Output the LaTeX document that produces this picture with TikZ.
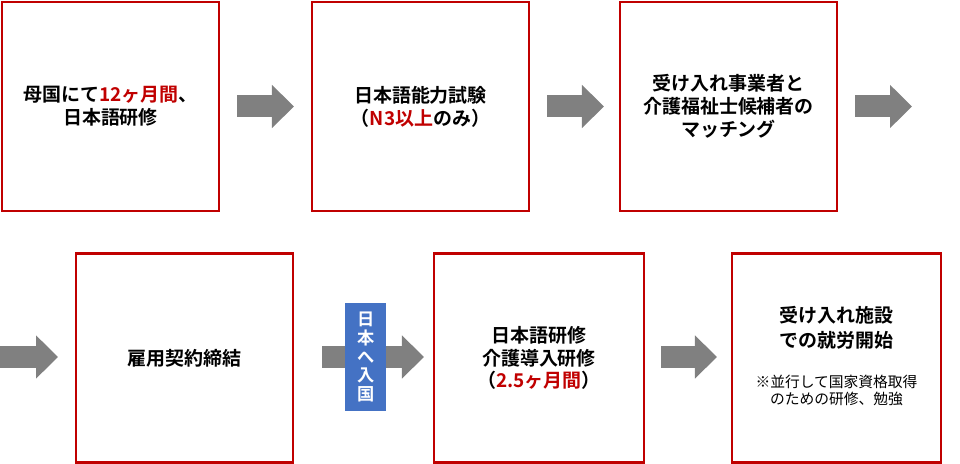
\documentclass[tikz,border=0pt]{standalone}
\usepackage{fontspec}
\setmainfont{Noto Sans CJK JP}[BoldFont={Noto Sans CJK JP Bold}]
\usetikzlibrary{arrows.meta,positioning,calc}
\definecolor{stepred}{HTML}{C00000}
\definecolor{arrowgray}{HTML}{808080}
\definecolor{entryblue}{HTML}{4472C4}
\newcommand{\hl}[1]{\textcolor{stepred}{#1}}
\newcommand{\notefont}{\fontsize{8.4}{9.8}\selectfont\mdseries}
\tikzset{
    stepbox/.style={
        rectangle,
        draw=stepred,
        line width=1.2pt,
        align=center,
        minimum width=4.34cm,
        minimum height=4.18cm,
        font=\fontsize{10.8}{13}\selectfont\bfseries
    },
    flow/.style={
        draw=arrowgray,
        line width=0.44cm,
        -{Triangle[length=0.44cm,width=0.84cm]}
    },
    tag/.style={
        rectangle,
        fill=entryblue,
        text=white,
        align=center,
        minimum width=0.82cm,
        minimum height=2.16cm,
        inner sep=1pt,
        font=\fontsize{9.8}{10.6}\selectfont\bfseries
    }
}
\begin{document}
\begin{tikzpicture}
\useasboundingbox (0,0) rectangle (19.2,9.28);

\node[stepbox] (s1) at (2.21,7.15) {母国にて\hl{12ヶ月間}、\\日本語研修};
\node[stepbox] (s2) at (8.41,7.15) {日本語能力試験\\（\hl{N3以上}のみ）};
\node[stepbox] (s3) at (14.57,7.15) {受け入れ事業者と\\介護福祉士候補者の\\マッチング};

\node[stepbox] (s4) at (3.69,2.12) {雇用契約締結};
\node[stepbox, minimum width=4.2cm] (s5) at (10.78,2.12)
    {日本語研修\\介護導入研修\\（\hl{2.5ヶ月間}）};
\node[stepbox, minimum width=4.18cm] (s6) at (16.73,2.12)
    {受け入れ施設\\[0.04cm]での就労開始\\[0.34cm]
     {\notefont\begin{tabular}[t]{@{}c@{}}※並行して国家資格取得\\のための研修、勉強\end{tabular}}};

\coordinate (wrapout) at (18.24,7.15);
\coordinate (wrapstart) at (0,2.14);
\coordinate (wrapin) at (1.16,2.14);

\draw[flow] ([xshift=0.34cm]s1.east) -- ([xshift=-0.34cm]s2.west);
\draw[flow] ([xshift=0.34cm]s2.east) -- ([xshift=-0.3cm]s3.west);
\draw[flow] ([xshift=0.34cm]s3.east) -- (wrapout);

\draw[flow] (wrapstart) -- (wrapin);
\draw[flow] ([xshift=0.56cm,yshift=0.02cm]s4.east) --
    node[tag, pos=0.43] (entry) {日\\本\\へ\\入\\国}
    ([xshift=-0.18cm,yshift=0.02cm]s5.west);
\draw[flow] ([xshift=0.32cm,yshift=0.02cm]s5.east) -- ([xshift=-0.28cm,yshift=0.02cm]s6.west);

\end{tikzpicture}
\end{document}
